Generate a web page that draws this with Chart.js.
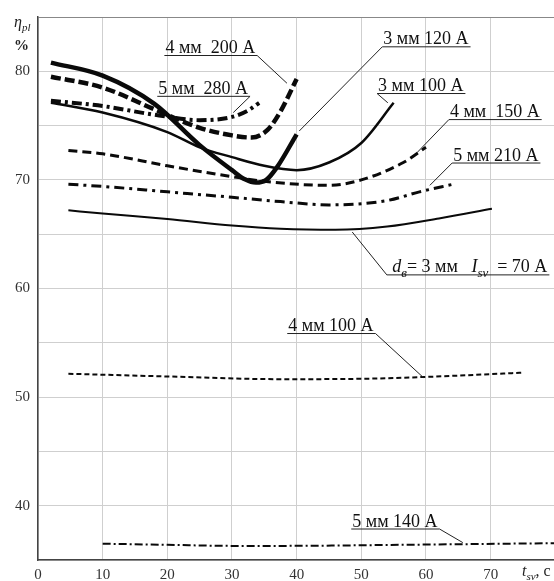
<!DOCTYPE html>
<html>
<head>
<meta charset="utf-8">
<script src="https://cdn.jsdelivr.net/npm/chart.js@4.4.1/dist/chart.umd.min.js"></script>
<style>
html,body{margin:0;padding:0;background:#fff;overflow:hidden}
</style>
</head>
<body>
<canvas id="chart" width="554" height="581"></canvas>
<script>
// ================= DATA (t_sv in s, eta_pl in %) =================
const t120 = [2, 10, 18, 25, 30, 32, 33.7, 35.3, 37, 40];
const eta120 = [80.8, 79.6, 77, 73.2, 70.9, 70.05, 69.75, 70.0, 71.2, 74.2];

const t200 = [2, 10, 18, 25, 30, 33, 35.5, 37.5, 40];
const eta200 = [79.5, 78.5, 76.5, 74.8, 74.1, 73.9, 74.6, 76.3, 79.3];

const t280 = [2, 10, 18, 25, 30, 32.5, 34.2];
const eta280 = [77.3, 76.8, 76, 75.5, 75.8, 76.4, 77.1];

const t100 = [2, 10, 20, 25, 30, 35, 40, 45, 50, 55];
const eta100 = [77.1, 76.2, 74.4, 73, 72.1, 71.3, 70.9, 71.6, 73.4, 77.1];

const t150 = [4.7, 10, 20, 30, 36, 45, 50, 56.5, 60];
const eta150 = [72.7, 72.4, 71.3, 70.3, 69.8, 69.5, 70, 71.6, 73];

const t210 = [4.7, 10, 20, 30, 37.5, 45, 54, 59, 64.2];
const eta210 = [69.6, 69.4, 68.9, 68.4, 68, 67.7, 68.1, 68.9, 69.6];

const t70 = [4.7, 10, 20, 30, 37.5, 46, 54, 62, 70.2];
const eta70 = [67.2, 66.9, 66.4, 65.8, 65.5, 65.4, 65.7, 66.45, 67.35];

const t100b = [4.7, 20, 37.5, 51.4, 59.6, 75];
const eta100b = [52.15, 51.9, 51.65, 51.7, 51.85, 52.25];

const t140 = [10, 20, 30, 37.5, 56.5, 80];
const eta140 = [36.5, 36.4, 36.3, 36.3, 36.4, 36.55];

const xTicks = [0, 10, 20, 30, 40, 50, 60, 70];
const yTicks = [40, 50, 60, 70, 80];

// ================= LABELS =================
const SERIF = "'Liberation Serif', 'DejaVu Serif', serif";

const labels = [
    {segs:[{t:"4 мм  200 А"}], x:19.7, y:81.5, tx:38.5, ty:78.9, side:"right"},
    {segs:[{t:"5 мм  280 А"}], x:18.6, y:77.74, tx:30.2, ty:76.2, side:"right"},
    {segs:[{t:"3 мм 120 А"}], x:53.4, y:82.3, tx:40.4, ty:74.5, side:"left"},
    {segs:[{t:"3 мм 100 А"}], x:52.6, y:78.0, tx:54.1, ty:77.1, side:"left"},
    {segs:[{t:"4 мм  150 А"}], x:63.7, y:75.6, tx:58.6, ty:72.5, side:"left"},
    {segs:[{t:"5 мм 210 А"}], x:64.2, y:71.6, tx:60.6, ty:69.5, side:"left"},
    {segs:[{t:" d",i:true},{t:"в",i:true,s:true},{t:"= 3 мм   "},{t:"I",i:true},{t:"sv",i:true,s:true},{t:"  = 70 А"}],
        x:54.1, y:61.3, tx:48.6, ty:65.2, side:"left"},
    {segs:[{t:"4 мм 100 А"}], x:38.7, y:55.9, tx:59.6, ty:51.8, side:"right"},
    {segs:[{t:"5 мм 140 А"}], x:48.6, y:37.9, tx:65.7, ty:36.6, side:"right"}
];

function pts(xs, ys){
    return xs.map((x,i) => ({x:x, y:ys[i]}));
}

function drawRich(ctx, segs, x, y, size){
    let cx = x;
    segs.forEach(s => {
        const fs = s.s ? Math.round(size*0.7) : size;
        ctx.font = (s.i ? "italic " : "") + fs + "px " + SERIF;
        const dy = s.s ? size*0.25 : 0;
        ctx.fillText(s.t, cx, y + dy);
        cx += ctx.measureText(s.t).width;
    });
    return cx - x;
}

const labelPlugin = {
    id:"labels",
    afterDatasetsDraw(chart){
        const ctx = chart.ctx;
        const xs = chart.scales.x, ys = chart.scales.y;
        ctx.save();
        ctx.fillStyle = "#111";
        ctx.strokeStyle = "#222";
        ctx.textBaseline = "alphabetic";
        ctx.textAlign = "left";
        labels.forEach(l => {
            const px = xs.getPixelForValue(l.x);
            const py = ys.getPixelForValue(l.y);
            const w = drawRich(ctx, l.segs, px, py - 2, 18);
            ctx.lineWidth = 1;
            ctx.beginPath();
            ctx.moveTo(px - 1, py + 0.5);
            ctx.lineTo(px + w + 2, py + 0.5);
            const sx = l.side === "left" ? px - 1 : px + w + 2;
            ctx.moveTo(sx, py + 0.5);
            ctx.lineTo(xs.getPixelForValue(l.tx), ys.getPixelForValue(l.ty));
            ctx.stroke();
        });

        // axis titles
        const a = chart.chartArea;
        ctx.fillStyle = "#222";
        drawRich(ctx, [{t:"η",i:true},{t:"pl",i:true,s:true}], a.left - 24, a.top + 10, 16);
        ctx.font = "bold 15px " + SERIF;
        ctx.fillText("%", a.left - 24, a.top + 33);
        drawRich(ctx, [{t:"t",i:true},{t:"sv",i:true,s:true},{t:", c"}], a.right - 32, a.bottom + 16, 16);
        ctx.restore();
    }
};

// ================= CHART =================
function line(label, data, width, dash){
    return {
        label:label,
        data:data,
        showLine:true,
        borderColor:"#0a0a0a",
        borderWidth:width,
        borderDash:dash,
        borderCapStyle:"butt",
        pointRadius:0,
        cubicInterpolationMode:"monotone",
        fill:false
    };
}

const ctx = document.getElementById("chart").getContext("2d");

new Chart(ctx,{
    type:"scatter",
    data:{
        datasets:[
            line("3 мм 120 А", pts(t120, eta120), 4.5, []),
            line("4 мм 200 А", pts(t200, eta200), 4.5, [10,4]),
            line("5 мм 280 А", pts(t280, eta280), 4, [10,4,3,4]),
            line("3 мм 100 А", pts(t100, eta100), 2.5, []),
            line("4 мм 150 А", pts(t150, eta150), 3, [9,5]),
            line("5 мм 210 А", pts(t210, eta210), 3, [10,5,3,5]),
            line("3 мм 70 А", pts(t70, eta70), 2, []),
            line("4 мм 100 А", pts(t100b, eta100b), 2, [5,3]),
            line("5 мм 140 А", pts(t140, eta140), 2, [8,3,2,3])
        ]
    },
    options:{
        responsive:false,
        animation:false,
        layout:{padding:{top:14, right:0, left:0, bottom:0}},
        plugins:{legend:{display:false}, tooltip:{enabled:false}},
        scales:{
            x:{
                type:"linear",
                min:0, max:79.8,
                afterFit(s){ s.height = 21; },
                afterBuildTicks(s){ s.ticks = xTicks.map(v => ({value:v})); },
                grid:{color:"#cfcfcf", drawTicks:false},
                border:{color:"#444", width:1.5},
                ticks:{padding:6, color:"#333", font:{family:SERIF, size:15}}
            },
            y:{
                type:"linear",
                min:35, max:85,
                afterFit(s){ s.width = 38; },
                ticks:{
                    stepSize:5, padding:8, color:"#333",
                    font:{family:SERIF, size:15},
                    callback:v => yTicks.includes(v) ? String(v) : ""
                },
                grid:{color:c => c.tick && c.tick.value === 85 ? "#888" : "#cfcfcf", drawTicks:false},
                border:{color:"#444", width:1.5}
            }
        }
    },
    plugins:[labelPlugin]
});
</script>
</body>
</html>
